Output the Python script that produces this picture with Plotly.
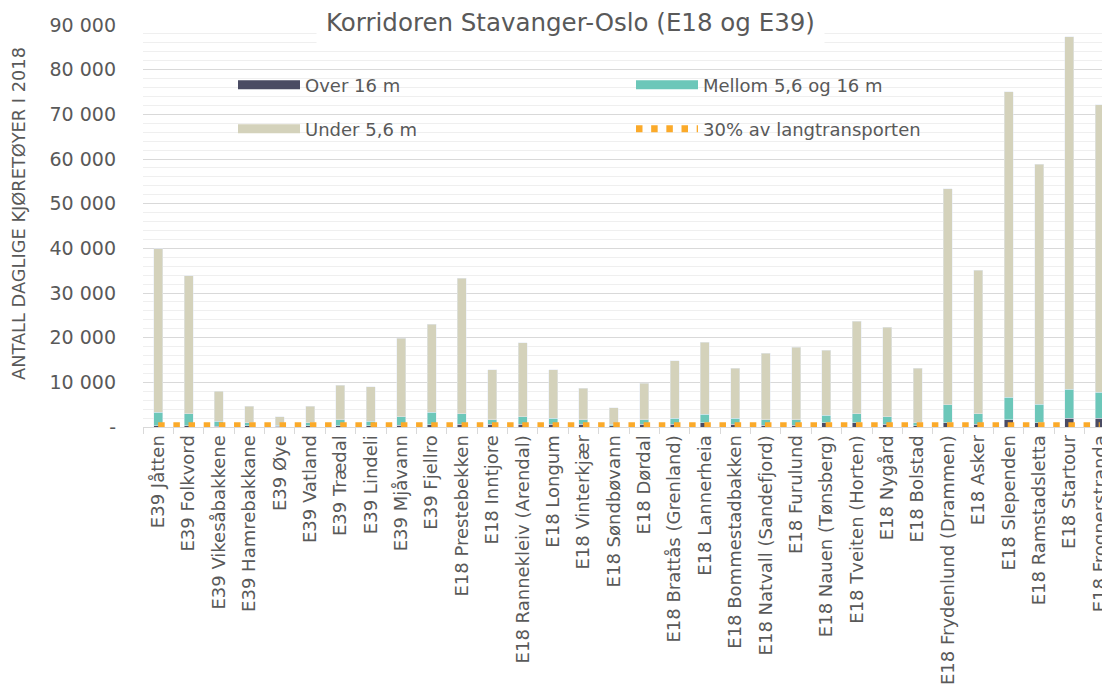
import plotly.graph_objects as go

categories = [
    "E39 Jåtten", "E39 Folkvord", "E39 Vikesåbakkene", "E39 Hamrebakkane", "E39 Øye",
    "E39 Vatland", "E39 Trædal", "E39 Lindeli", "E39 Mjåvann", "E39 Fjellro",
    "E18 Prestebekken", "E18 Inntjore", "E18 Rannekleiv (Arendal)", "E18 Longum",
    "E18 Vinterkjær", "E18 Søndbøvann", "E18 Dørdal", "E18 Brattås (Grenland)",
    "E18 Lannerheia", "E18 Bommestadbakken", "E18 Natvall (Sandefjord)", "E18 Furulund",
    "E18 Nauen (Tønsberg)", "E18 Tveiten (Horten)", "E18 Nygård", "E18 Bolstad",
    "E18 Frydenlund (Drammen)", "E18 Asker", "E18 Slependen", "E18 Ramstadsletta",
    "E18 Startour", "E18 Frognerstranda",
]

over_16m = [300, 300, 200, 300, 150, 250, 300, 300, 400, 500,
            600, 600, 600, 600, 600, 300, 600, 600, 970, 600,
            350, 380, 970, 970, 600, 300, 970, 600, 1640, 970,
            2010, 2010]
mellom_5_6_16m = [3000, 2650, 1100, 600, 250, 650, 1270, 1000, 1900, 2800,
                  2350, 970, 1640, 1340, 970, 300, 970, 1340, 1940, 1340,
                  1220, 1190, 1640, 1980, 1710, 600, 4060, 2380, 5070, 4100,
                  6420, 5750]
under_5_6m = [36600, 30950, 6700, 3750, 1900, 3750, 7830, 7700, 17550, 19700,
              30350, 11230, 16660, 10860, 7080, 3720, 8270, 12890, 16040, 11190,
              14980, 16330, 14610, 20760, 19990, 12230, 48270, 32120, 68390, 53730,
              78970, 64340]
langtransport_30 = [300] * len(categories)

y_tickvals = [0, 10000, 20000, 30000, 40000, 50000, 60000, 70000, 80000, 90000]
y_ticktext = ["-", "10 000", "20 000", "30 000", "40 000", "50 000",
              "60 000", "70 000", "80 000", "90 000"]

C_OVER = "#4a4b63"
C_MID = "#6cc7b9"
C_UNDER = "#d4d2bb"
C_ORANGE = "#fbaa2a"
TXT = "#595959"
FONT = "DejaVu Sans"

fig = go.Figure()
fig.add_trace(go.Bar(x=categories, y=over_16m, marker_color=C_OVER, showlegend=False))
fig.add_trace(go.Bar(x=categories, y=mellom_5_6_16m, marker_color=C_MID, showlegend=False))
fig.add_trace(go.Bar(x=categories, y=under_5_6m, marker_color=C_UNDER, showlegend=False))
fig.add_trace(go.Scatter(x=categories, y=langtransport_30, mode="lines",
                         line=dict(color=C_ORANGE, width=7, dash="6.5px,8.67px"),
                         name="30% av langtransporten", legend="legend2", legendrank=2))

# legend-only entries
fig.add_trace(go.Scatter(x=[None], y=[None], mode="lines", line=dict(color=C_OVER, width=9),
                         name="Over 16 m", legend="legend", legendrank=1))
fig.add_trace(go.Scatter(x=[None], y=[None], mode="lines", line=dict(color=C_MID, width=9),
                         name="Mellom 5,6 og 16 m", legend="legend", legendrank=2))
fig.add_trace(go.Scatter(x=[None], y=[None], mode="lines", line=dict(color=C_UNDER, width=9),
                         name="Under 5,6 m", legend="legend2", legendrank=1))

# page body has an 8px margin: figure coordinates = screen coordinates - 8
OFF = 8
W, H = 1110, 678
L = 143 - OFF
T = 25 - OFF
plot_right = 1115 - OFF
plot_bottom = 427 - OFF
R = W - plot_right
B = H - plot_bottom
pw = plot_right - L
ph = plot_bottom - T

def px_x(x):
    return (x - OFF - L) / pw

def px_y(y):
    return 1 - (y - OFF - T) / ph

legend_common = dict(orientation="h", entrywidth=321, entrywidthmode="pixels",
                     itemwidth=62, bgcolor="rgba(0,0,0,0)", borderwidth=0,
                     font=dict(family=FONT, size=18, color=TXT),
                     xanchor="left", yanchor="middle", traceorder="normal")

fig.update_layout(
    width=W, height=H,
    margin=dict(l=L, r=R, t=T, b=B, autoexpand=False),
    paper_bgcolor="white", plot_bgcolor="white",
    barmode="stack", bargap=0.7,
    font=dict(family=FONT, color=TXT),
    legend=dict(x=px_x(233), y=px_y(85), **legend_common),
    legend2=dict(x=px_x(233), y=px_y(129), **legend_common),
    xaxis=dict(
        type="category", range=[-0.5, 31.5], automargin=False,
        tickangle=-90, tickfont=dict(family=FONT, size=18, color=TXT),
        showgrid=False, showline=True, linecolor="#d9d9d9", linewidth=1,
        ticks="outside", tickson="boundaries", ticklen=6, tickcolor="#d9d9d9",
    ),
    yaxis=dict(
        range=[0, 90000], tickvals=y_tickvals, ticktext=y_ticktext, automargin=False,
        tickfont=dict(family=FONT, size=19, color=TXT),
        showgrid=True, gridcolor="#d9d9d9", gridwidth=1, zeroline=False,
        minor=dict(dtick=2000, showgrid=True, gridcolor="#efefef", gridwidth=1),
        ticklabelstandoff=26, showline=False,
    ),
    shapes=[
        dict(type="rect", xref="paper", yref="paper",
             x0=px_x(180), x1=px_x(974), y0=px_y(158), y1=px_y(62),
             fillcolor="white", line=dict(width=0), layer="between"),
    ],
    annotations=[
        dict(text="Korridoren Stavanger-Oslo (E18 og E39)", xref="paper", yref="paper",
             x=px_x(570), y=px_y(22), xanchor="center", yanchor="middle", showarrow=False,
             font=dict(family=FONT, size=24.5, color=TXT), bgcolor="white", borderpad=9),
        dict(text="ANTALL DAGLIGE KJØRETØYER I 2018", xref="paper", yref="paper",
             x=px_x(18), y=px_y(214), xanchor="center", yanchor="middle", showarrow=False,
             textangle=-90, font=dict(family=FONT, size=17.8, color=TXT)),
    ],
)

fig.write_html("out.html")
